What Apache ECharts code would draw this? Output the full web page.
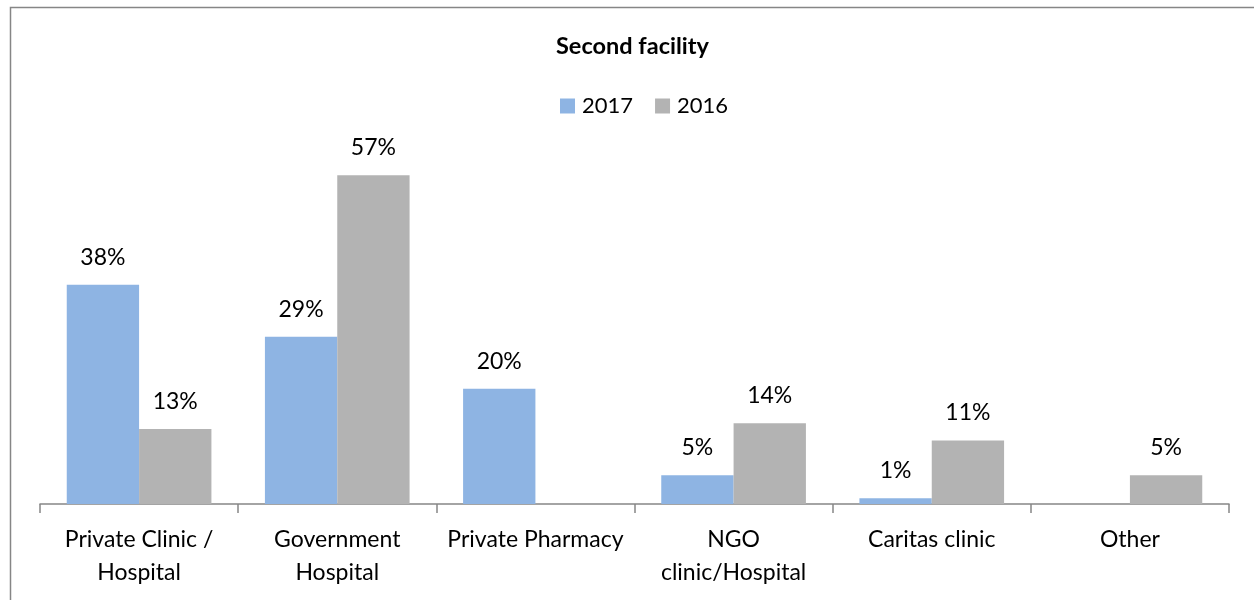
<!DOCTYPE html>
<html>
<head>
<meta charset="utf-8">
<script src="https://cdn.jsdelivr.net/npm/echarts@6/dist/echarts.min.js"></script>
<style>
  html, body { margin: 0; padding: 0; background: #fff; }
  #chart { width: 1254px; height: 600px; }
</style>
</head>
<body>
<div id="chart"></div>
<script>
const categories = ['Private Clinic /\nHospital', 'Government\nHospital', 'Private Pharmacy', 'NGO\nclinic/Hospital', 'Caritas clinic', 'Other'];
const values2017 = [38, 29, 20, 5, 1, null];
const values2016 = [13, 57, null, 14, 11, 5];
const seriesNames = ['2017', '2016'];

const FONT = 'Lato, "Open Sans", sans-serif';
const chart = echarts.init(document.getElementById('chart'));

const barLabel = {
  show: true,
  position: 'top',
  distance: 16,
  color: '#000',
  fontFamily: FONT,
  fontSize: 23,
  formatter: p => p.value == null ? '' : p.value + '%'
};

chart.setOption({
  animation: false,
  title: {
    text: 'Second facility',
    left: 551,
    top: 29,
    textStyle: { fontFamily: FONT, fontSize: 23.5, fontWeight: 'bold', color: '#000' }
  },
  legend: {
    top: 90,
    left: 555,
    itemWidth: 15,
    itemHeight: 15,
    itemGap: 22,
    icon: 'rect',
    textStyle: { fontFamily: FONT, fontSize: 22, color: '#000', padding: [0, 0, 0, 2] },
    data: seriesNames
  },
  graphic: [{
    type: 'rect',
    shape: { x: 10.5, y: 7.5, width: 1300, height: 700 },
    style: { fill: null, stroke: '#868686', lineWidth: 1.5 },
    silent: true
  }],
  grid: { left: 40, right: 25, top: 158, bottom: 96 },
  xAxis: {
    type: 'category',
    data: categories,
    axisLine: { lineStyle: { color: '#868686', width: 1.5 } },
    axisTick: { show: true, length: 9, lineStyle: { color: '#868686', width: 1.5 } },
    axisLabel: { fontFamily: FONT, fontSize: 23, color: '#000', margin: 19, lineHeight: 33, interval: 0 }
  },
  yAxis: {
    type: 'value',
    min: 0,
    max: 60,
    show: false,
    splitLine: { show: false }
  },
  series: [
    {
      name: seriesNames[0],
      type: 'bar',
      data: values2017,
      barGap: '0%',
      barCategoryGap: '27%',
      itemStyle: { color: '#8EB4E3' },
      label: barLabel
    },
    {
      name: seriesNames[1],
      type: 'bar',
      data: values2016,
      itemStyle: { color: '#B3B3B3' },
      label: barLabel
    }
  ]
});
</script>
</body>
</html>
